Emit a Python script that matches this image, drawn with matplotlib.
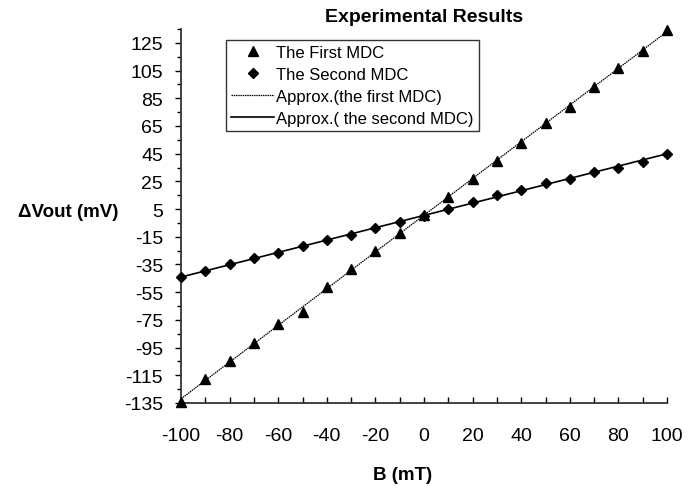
import numpy as np
import matplotlib
matplotlib.use("Agg")
from matplotlib import pyplot as plt

plt.rcParams['font.family'] = ['Liberation Sans', 'DejaVu Sans']
plt.rcParams['axes.unicode_minus'] = False

# magnetic field (mT)
B = [-100, -90, -80, -70, -60, -50, -40, -30, -20, -10, 0,
     10, 20, 30, 40, 50, 60, 70, 80, 90, 100]
# delta Vout (mV)
first_mdc = [-134, -118, -105, -92, -78, -69, -51, -38, -25, -12, 1,
             14, 27, 40, 53, 67, 79, 93, 107, 119, 134]
second_mdc = [-44, -40, -35, -30, -27, -22, -17, -14, -9, -4, 0,
              5, 10, 15, 19, 24, 27, 32, 35, 39, 45]

X_MAJOR = np.arange(-100, 101, 20)
X_MINOR = np.arange(-90, 100, 20)
Y_MAJOR = np.arange(-135, 126, 20)
Y_MINOR = np.arange(-125, 136, 20)

W, H = 698, 489
fig = plt.figure(figsize=(W / 100, H / 100), dpi=100)
ax = fig.add_axes([181 / W, 1 - 404 / H, (667 - 181) / W, (404 - 30) / H])

# linear approximations
x = np.array(B, dtype=float)
p1 = np.polyfit(x, first_mdc, 1)
p2 = np.polyfit(x, second_mdc, 1)
xf = np.array([x.min(), x.max()])

ax.plot(B, first_mdc, linestyle='none', marker='^', markersize=7.5,
        color='black', label='The First MDC', zorder=3, clip_on=False)
ax.plot(B, second_mdc, linestyle='none', marker='D', markersize=5.5,
        color='black', label='The Second MDC', zorder=3, clip_on=False)
ax.plot(xf, np.polyval(p1, xf), color='black', linewidth=0.9,
        linestyle=(0, (1.2, 0.6)), label='Approx.(the first MDC)')
ax.plot(xf, np.polyval(p2, xf), color='black', linewidth=1.2,
        label='Approx.( the second MDC)')

ax.set_xlim(-100, 100)
ax.set_ylim(-135, 135)
ax.set_xticks(X_MAJOR)
ax.set_xticks(X_MINOR, minor=True)
ax.set_yticks(Y_MAJOR)
ax.set_yticks(Y_MINOR, minor=True)

for s in ['top', 'right']:
    ax.spines[s].set_visible(False)
for s in ['left', 'bottom']:
    ax.spines[s].set_linewidth(1.3)
    ax.spines[s].set_color('#333333')

ax.tick_params(axis='x', which='both', direction='in', length=4, width=1,
               labelsize=14, pad=17)
ax.tick_params(axis='y', which='both', direction='out', length=4, width=1,
               labelsize=14, pad=9)
ax.tick_params(axis='y', which='minor', length=3)

leg = ax.legend(loc='upper left', bbox_to_anchor=(226 / W, 1 - 41 / H),
                bbox_transform=fig.transFigure, fontsize=12, frameon=True,
                fancybox=False, borderpad=0.3, labelspacing=0.42,
                handlelength=2.6, handletextpad=0.1, borderaxespad=0)
leg.get_frame().set_edgecolor('black')
leg.get_frame().set_linewidth(1.0)

fig.text(424 / W, 1 - 17 / H, 'Experimental Results', ha='center',
         va='center', fontsize=14, fontweight='bold')
fig.text(68 / W, 1 - 213 / H, '\u0394Vout (mV)', ha='center', va='center',
         fontsize=13.5, fontweight='bold')
fig.text(403 / W, 1 - 476 / H, 'B (mT)', ha='center', va='center',
         fontsize=13.5, fontweight='bold')

fig.savefig('out.png', dpi=100)
